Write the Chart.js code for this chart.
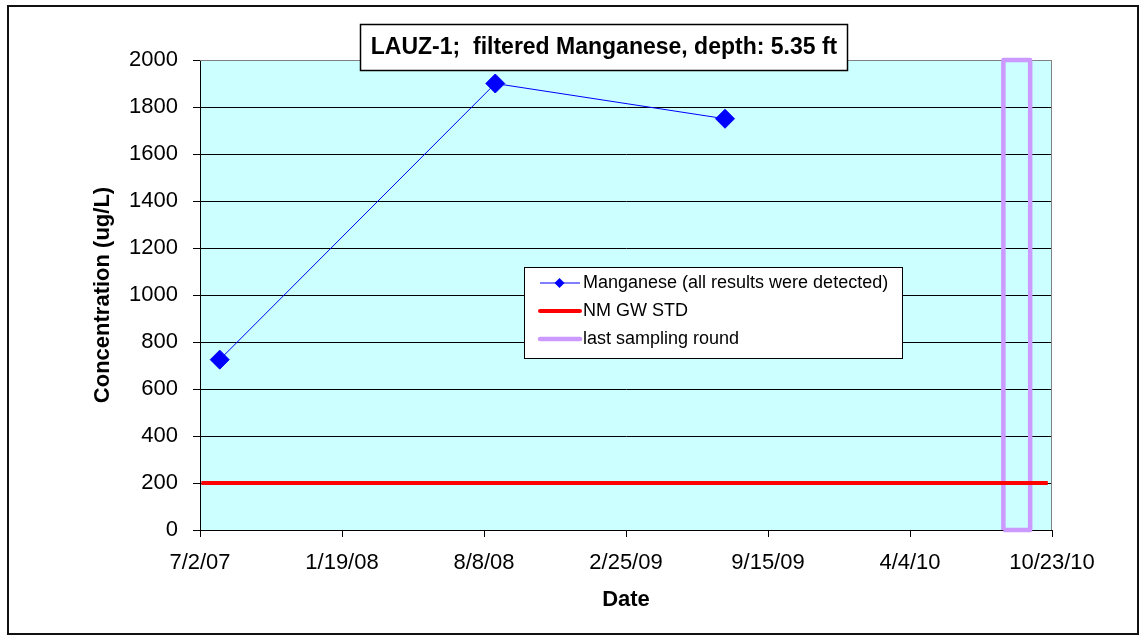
<!DOCTYPE html>
<html><head><meta charset="utf-8">
<script src="https://cdn.jsdelivr.net/npm/chart.js@4/dist/chart.umd.min.js"></script>
<style>html,body{margin:0;padding:0;background:#fff}#wrap{width:1145px;height:639px;position:relative}</style>
</head><body><div id="wrap"><canvas id="c" width="1145" height="639"></canvas></div>
<script>
const chartTitle = 'LAUZ-1;  filtered Manganese, depth: 5.35 ft';
const xAxisTitle = 'Date';
const yAxisTitle = 'Concentration (ug/L)';
const axisStartDate = '2007-07-02';
const axisEndDate = '2010-10-23';
const xTickLabels = ['7/2/07','1/19/08','8/8/08','2/25/09','9/15/09','4/4/10','10/23/10'];
const yMin = 0, yMax = 2000, yStep = 200;

const seriesLabels = ['Manganese (all results were detected)', 'NM GW STD', 'last sampling round'];

const manganeseDates = ['2007-07-30', '2008-08-24', '2009-07-16'];
const manganeseValues = [725, 1900, 1750];

const stdDates = ['2007-07-04', '2010-10-17'];
const stdValues = [200, 200];

const lastRoundDates = ['2010-08-15', '2010-08-15', '2010-09-22', '2010-09-22', '2010-08-15'];
const lastRoundValues = [0, 2000, 2000, 0, 0];

const FONT = "'Liberation Sans', Arial, sans-serif";
const dayOf = d => (Date.parse(d + 'T00:00:00Z') - Date.parse(axisStartDate + 'T00:00:00Z')) / 86400000;
const pts = (ds, vs) => ds.map((d, i) => ({x: dayOf(d), y: vs[i]}));
const xMin = 0, xMax = dayOf(axisEndDate);

const decor = {
  id: 'decor',
  beforeDraw(chart) {
    const {ctx, chartArea: a} = chart;
    ctx.save();
    ctx.fillStyle = '#fff';
    ctx.fillRect(0, 0, chart.width, chart.height);
    ctx.strokeStyle = '#111';
    ctx.lineWidth = 2;
    ctx.strokeRect(8, 6, 1130, 628);
    ctx.fillStyle = '#CCFFFF';
    ctx.fillRect(a.left, a.top, a.right - a.left, a.bottom - a.top);
    ctx.restore();
  },
  beforeDatasetsDraw(chart) {
    const {ctx, chartArea: a} = chart;
    ctx.save();
    ctx.strokeStyle = '#808080';
    ctx.lineWidth = 1;
    ctx.beginPath();
    ctx.moveTo(a.left, a.top + 0.5);
    ctx.lineTo(a.right - 0.5, a.top + 0.5);
    ctx.lineTo(a.right - 0.5, a.bottom);
    ctx.stroke();
    ctx.restore();
  },
  afterDraw(chart) {
    const {ctx} = chart;
    ctx.save();
    // title box
    ctx.fillStyle = '#fff';
    ctx.fillRect(360, 24, 487, 47);
    ctx.strokeStyle = '#000';
    ctx.lineWidth = 1.5;
    ctx.strokeRect(360.5, 24.5, 487, 46);
    ctx.fillStyle = '#000';
    ctx.font = 'bold 23px ' + FONT;
    ctx.textAlign = 'center';
    ctx.textBaseline = 'middle';
    ctx.fillText(chartTitle, 604, 48);
    // legend box
    ctx.fillStyle = '#fff';
    ctx.fillRect(524, 267, 378, 91);
    ctx.strokeStyle = '#000';
    ctx.lineWidth = 1;
    ctx.strokeRect(524.5, 267.5, 378, 91);
    ctx.font = '18px ' + FONT;
    ctx.textAlign = 'left';
    const rows = [283, 311, 339];
    chart.data.datasets.forEach((ds, i) => {
      const y = rows[i];
      ctx.strokeStyle = ds.borderColor;
      ctx.lineWidth = ds.borderWidth;
      ctx.lineCap = i === 0 ? 'butt' : 'round';
      ctx.beginPath();
      ctx.moveTo(540, y);
      ctx.lineTo(580, y);
      ctx.stroke();
      if (i === 0) {
        ctx.fillStyle = ds.borderColor;
        ctx.beginPath();
        ctx.moveTo(554.5, y); ctx.lineTo(559.5, y - 5); ctx.lineTo(564.5, y); ctx.lineTo(559.5, y + 5);
        ctx.closePath();
        ctx.fill();
      }
      ctx.fillStyle = '#000';
      ctx.fillText(ds.label, 583, y);
    });
    ctx.restore();
  }
};

Chart.defaults.font.family = FONT;
Chart.defaults.color = '#000';

new Chart(document.getElementById('c'), {
  type: 'line',
  data: {
    datasets: [
      {
        label: seriesLabels[0],
        data: pts(manganeseDates, manganeseValues),
        borderColor: '#0000FF', backgroundColor: '#0000FF',
        borderWidth: 1, pointStyle: 'rectRot', pointRadius: 9.5, pointBorderWidth: 1,
        pointBackgroundColor: '#0000FF', pointBorderColor: '#0000FF', clip: false
      },
      {
        label: seriesLabels[1],
        data: pts(stdDates, stdValues),
        borderColor: '#FF0000', borderWidth: 4, pointRadius: 0, clip: false
      },
      {
        label: seriesLabels[2],
        data: pts(lastRoundDates, lastRoundValues),
        borderColor: '#CC99FF', borderWidth: 4.5, pointRadius: 0, borderJoinStyle: 'round', clip: false
      }
    ]
  },
  options: {
    responsive: false, animation: false, devicePixelRatio: 1,
    layout: {padding: {left: 0, right: 93, top: 60, bottom: 0}},
    plugins: {legend: {display: false}, tooltip: {enabled: false}, title: {display: false}},
    scales: {
      x: {
        type: 'linear', min: xMin, max: xMax, offset: false,
        afterBuildTicks: s => { s.ticks = xTickLabels.map((l, i) => ({value: xMin + i * (xMax - xMin) / (xTickLabels.length - 1)})); },
        afterFit: s => { s.height = 109; },
        ticks: {callback: (v, i) => xTickLabels[i], autoSkip: false, maxRotation: 0, padding: 13, font: {size: 22}, color: '#000'},
        grid: {drawOnChartArea: false, drawTicks: true, tickLength: 7, tickColor: '#000'},
        border: {display: true, color: '#000', width: 1},
        title: {display: true, text: xAxisTitle, font: {size: 22, weight: 'bold'}, padding: {top: 0, bottom: 26}, color: '#000'}
      },
      y: {
        type: 'linear', min: yMin, max: yMax,
        afterFit: s => { s.width = 200; },
        ticks: {stepSize: yStep, padding: 15, font: {size: 22}, color: '#000', callback: v => String(v)},
        grid: {color: c => (c.tick && c.tick.value === yMax) ? '#808080' : '#000', lineWidth: 1, drawTicks: true, tickLength: 7, tickColor: '#000'},
        border: {display: true, color: '#000', width: 1},
        title: {display: true, text: yAxisTitle, font: {size: 22, weight: 'bold'}, padding: {top: 90, bottom: 0}, color: '#000'}
      }
    }
  },
  plugins: [decor]
});
</script>
</body></html>
